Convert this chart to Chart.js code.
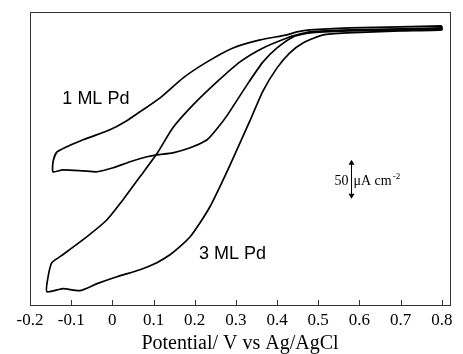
<!DOCTYPE html>
<html><head><meta charset="utf-8">
<script src="https://cdn.jsdelivr.net/npm/chart.js@4.4.1/dist/chart.umd.min.js"></script>
<style>html,body{margin:0;padding:0;background:#fff;}#wrap{width:463px;height:354px;}</style>
</head><body><div id="wrap"><canvas id="c" width="463" height="354"></canvas></div>
<script>
// x-axis tick values (V vs Ag/AgCl)
const xTicks = [-0.2,-0.1,0,0.1,0.2,0.3,0.4,0.5,0.6,0.7,0.8];

// 1 ML Pd loop: potential (V) and current (uA cm^-2)
const ml1Potential = [0.80,0.699,0.577,0.480,0.448,0.424,0.359,0.293,0.230,0.172,0.116,0.067,0.031,-0.006,-0.071,-0.134,-0.144,-0.144,-0.120,-0.071,-0.037,0.002,0.043,0.084,0.108,0.147,0.189,0.230,0.254,0.278,0.327,0.366,0.400,0.439,0.480,0.577,0.699,0.80];
const ml1Current   = [5.1,3.8,2.6,0,-2.6,-6.4,-12.8,-23.1,-41.0,-61.5,-87.2,-105.1,-117.9,-128.2,-141.0,-156.4,-169.2,-182.0,-179.5,-180.8,-182.0,-176.9,-169.2,-162.8,-160.3,-157.7,-151.3,-141.0,-126.9,-110.3,-70.5,-41.0,-23.1,-9.0,-3.8,-1.3,0,1.3];

// 3 ML Pd loop
const ml3Potential = [0.80,0.699,0.577,0.480,0.448,0.424,0.366,0.310,0.254,0.196,0.147,0.108,0.067,0.026,-0.013,-0.071,-0.127,-0.147,-0.156,-0.159,-0.120,-0.079,-0.037,0.011,0.067,0.108,0.140,0.164,0.189,0.213,0.237,0.261,0.286,0.310,0.334,0.366,0.400,0.431,0.463,0.512,0.570,0.699,0.80];
const ml3Current   = [2.6,1.3,0,-2.6,-6.4,-10.3,-23.1,-41.0,-66.7,-96.2,-125.6,-159.0,-188.5,-217.9,-243.6,-269.2,-291.0,-298.7,-316.7,-335.9,-332.0,-334.6,-325.6,-316.7,-307.7,-298.7,-288.5,-278.2,-265.4,-247.4,-226.9,-201.3,-173.1,-144.9,-116.7,-78.2,-48.7,-29.5,-16.7,-6.4,-3.8,-1.3,0];

// curve annotations
const curveLabels = ['1 ML Pd','3 ML Pd'];
const curveLabelPotential = [-0.040, 0.292];
const curveLabelCurrent = [-89, -287];

// scale bar
const scaleBarValue = 50;          // uA cm^-2
const scaleBarPotential = 0.5795;
const scaleBarCenter = -191.7;

function pts(xs, ys){ const a = xs.map((x,i)=>({x:x,y:ys[i]})); a.push({x:xs[0],y:ys[0]}); return a; }

const framePlugin = {
  id:'frame',
  afterDraw(chart){
    const ctx = chart.ctx, ca = chart.chartArea;
    const xs = chart.scales.x, ys = chart.scales.y;
    ctx.save();
    ctx.strokeStyle = '#333'; ctx.lineWidth = 1;
    ctx.strokeRect(Math.round(ca.left)+0.5, Math.round(ca.top)+0.5, Math.round(ca.right-ca.left), Math.round(ca.bottom-ca.top));
    // inner ticks
    ctx.beginPath();
    xTicks.forEach(v=>{
      const px = Math.round(xs.getPixelForValue(v))+0.5;
      ctx.moveTo(px, ca.bottom); ctx.lineTo(px, ca.bottom-5);
    });
    ctx.stroke();
    // curve labels
    ctx.fillStyle = '#000';
    ctx.font = '18px "Liberation Sans", Arial, sans-serif';
    ctx.textAlign = 'center'; ctx.textBaseline = 'middle';
    curveLabels.forEach((t,i)=>{
      ctx.fillText(t, xs.getPixelForValue(curveLabelPotential[i]), ys.getPixelForValue(curveLabelCurrent[i]));
    });
    // scale bar
    const bx = Math.round(xs.getPixelForValue(scaleBarPotential))+0.5;
    const yTop = ys.getPixelForValue(scaleBarCenter + scaleBarValue/2);
    const yBot = ys.getPixelForValue(scaleBarCenter - scaleBarValue/2);
    const yMid = ys.getPixelForValue(scaleBarCenter);
    ctx.strokeStyle = '#000'; ctx.lineWidth = 1;
    ctx.beginPath(); ctx.moveTo(bx, yTop+3); ctx.lineTo(bx, yBot-3); ctx.stroke();
    ctx.beginPath(); ctx.moveTo(bx, yTop); ctx.lineTo(bx-3, yTop+5); ctx.lineTo(bx+3, yTop+5); ctx.closePath(); ctx.fill();
    ctx.beginPath(); ctx.moveTo(bx, yBot); ctx.lineTo(bx-3, yBot-5); ctx.lineTo(bx+3, yBot-5); ctx.closePath(); ctx.fill();
    ctx.font = '14px "Liberation Serif", "Times New Roman", serif';
    ctx.textBaseline = 'alphabetic';
    const base = yMid + 6;
    ctx.textAlign = 'right'; ctx.fillText(String(scaleBarValue), bx-3, base);
    ctx.textAlign = 'left';
    const unit = '\u03BCA cm';
    ctx.fillText(unit, bx+2, base);
    const w = ctx.measureText(unit).width;
    ctx.font = '9px "Liberation Serif", "Times New Roman", serif';
    ctx.fillText('-2', bx+2+w+1, base-6);
    ctx.restore();
  }
};

new Chart(document.getElementById('c'), {
  type:'scatter',
  data:{ datasets:[
    { label:'1 ML Pd', data: pts(ml1Potential, ml1Current), showLine:true, borderColor:'#000', borderWidth:1.7, pointRadius:0, pointHoverRadius:0, tension:0.2, fill:false },
    { label:'3 ML Pd', data: pts(ml3Potential, ml3Current), showLine:true, borderColor:'#000', borderWidth:1.7, pointRadius:0, pointHoverRadius:0, tension:0.2, fill:false }
  ]},
  options:{
    responsive:false, animation:false, devicePixelRatio:1,
    layout:{ autoPadding:false, padding:{ left:30, right:13, top:12, bottom:0 } },
    plugins:{ legend:{display:false}, tooltip:{enabled:false} },
    scales:{
      x:{ type:'linear', min:-0.2, max:0.82,
        afterBuildTicks(s){ s.ticks = xTicks.map(v=>({value:v})); },
        grid:{ display:false, drawTicks:false },
        border:{ display:false },
        ticks:{ color:'#000', padding:7, maxRotation:0, autoSkip:false,
          font:{ family:'"Liberation Serif", "Times New Roman", serif', size:17, lineHeight:1 },
          callback:(v)=> (Math.abs(v)<1e-9 ? '0' : Number(v).toFixed(1)) },
        title:{ display:true, text:'Potential/ V vs Ag/AgCl', color:'#000', padding:{top:-2,bottom:0},
          font:{ family:'"Liberation Serif", "Times New Roman", serif', size:20, lineHeight:1 } }
      },
      y:{ type:'linear', display:false, min:-353, max:23 }
    }
  },
  plugins:[framePlugin]
});
</script></body></html>
